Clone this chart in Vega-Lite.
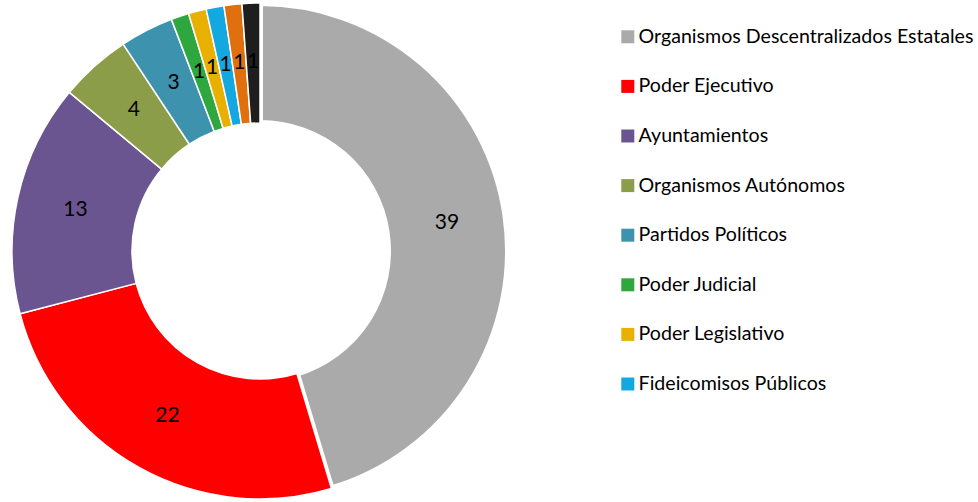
{
  "$schema": "https://vega.github.io/schema/vega-lite/v6.json",
  "width": 520,
  "height": 502,
  "padding": 0,
  "background": "white",
  "config": {"view": {"stroke": null}},
  "data": {
    "values": [
      {"categoria": "Organismos Descentralizados Estatales", "valor": 39, "orden": 1},
      {"categoria": "Poder Ejecutivo", "valor": 22, "orden": 2},
      {"categoria": "Ayuntamientos", "valor": 13, "orden": 3},
      {"categoria": "Organismos Autónomos", "valor": 4, "orden": 4},
      {"categoria": "Partidos Políticos", "valor": 3, "orden": 5},
      {"categoria": "Poder Judicial", "valor": 1, "orden": 6},
      {"categoria": "Poder Legislativo", "valor": 1, "orden": 7},
      {"categoria": "Fideicomisos Públicos", "valor": 1, "orden": 8},
      {"categoria": "Sindicatos", "valor": 1, "orden": 9},
      {"categoria": "Otros", "valor": 1, "orden": 10}
    ]
  },
  "encoding": {
    "theta": {"field": "valor", "type": "quantitative", "stack": true},
    "order": {"field": "orden", "type": "quantitative", "sort": "ascending"}
  },
  "layer": [
    {
      "mark": {"type": "arc", "outerRadius": 248, "innerRadius": 128, "stroke": "white", "strokeJoin": "round"},
      "encoding": {
        "strokeWidth": {"condition": {"test": "datum.orden == 1", "value": 6}, "value": 1.5},
        "color": {
          "field": "categoria",
          "type": "nominal",
          "sort": {"field": "orden"},
          "scale": {
            "domain": ["Organismos Descentralizados Estatales", "Poder Ejecutivo", "Ayuntamientos", "Organismos Autónomos", "Partidos Políticos", "Poder Judicial", "Poder Legislativo", "Fideicomisos Públicos", "Sindicatos", "Otros"],
            "range": ["#AAAAAA", "#FF0000", "#6B5590", "#8C9D4A", "#3D93AE", "#2EA83E", "#E8B000", "#13A8E0", "#E0700E", "#1E1E1E"]
          },
          "legend": {
            "title": null,
            "orient": "none",
            "legendX": 618,
            "legendY": 27,
            "padding": 0,
            "values": ["Organismos Descentralizados Estatales", "Poder Ejecutivo", "Ayuntamientos", "Organismos Autónomos", "Partidos Políticos", "Poder Judicial", "Poder Legislativo", "Fideicomisos Públicos"],
            "symbolType": "square",
            "symbolSize": 169,
            "symbolStrokeWidth": 0,
            "labelFont": "Lato",
            "labelFontSize": 19.6,
            "labelColor": "#000000",
            "labelLimit": 400,
            "labelOffset": 1,
            "rowPadding": 28.6
          }
        }
      }
    },
    {
      "mark": {"type": "text", "radius": 189, "font": "Lato", "fontSize": 21, "color": "#000000"},
      "encoding": {
        "text": {"field": "valor", "type": "quantitative"}
      }
    }
  ]
}
